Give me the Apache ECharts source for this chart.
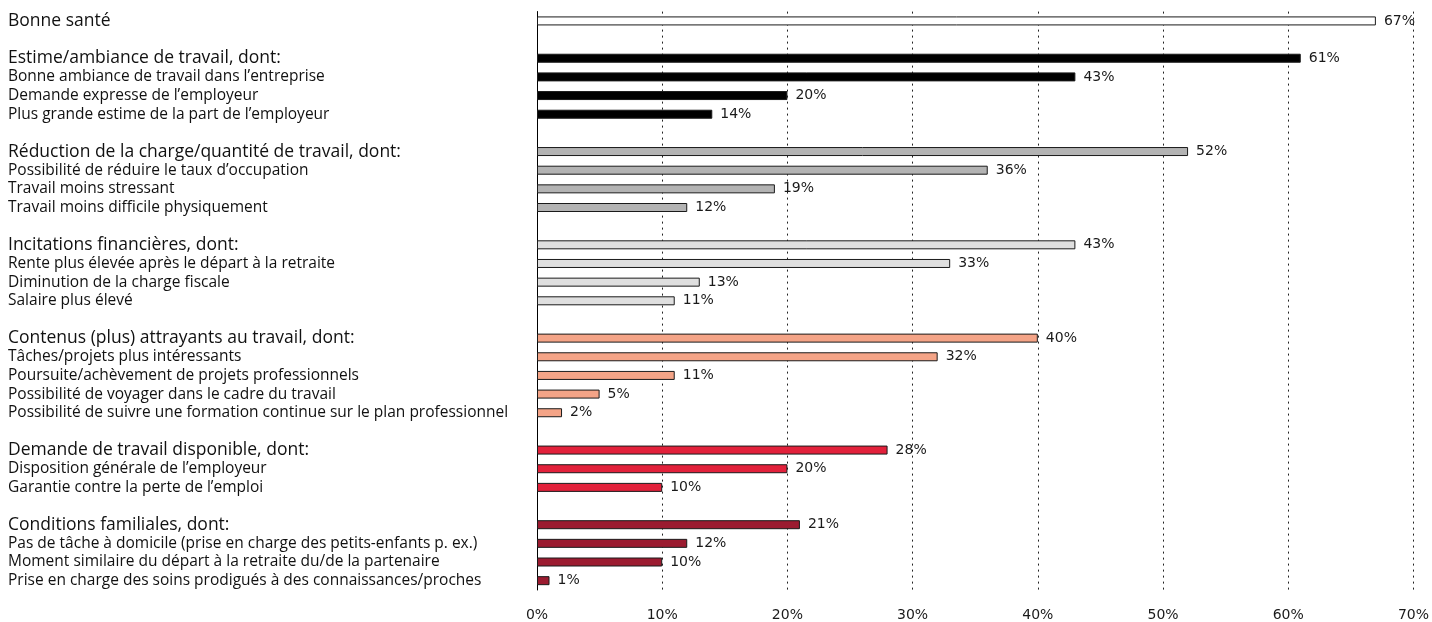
<!DOCTYPE html>
<html>
<head>
<meta charset="utf-8">
<script src="https://cdn.jsdelivr.net/npm/echarts@6/dist/echarts.min.js"></script>
<style>
  html, body { margin: 0; padding: 0; background: #fff; }
  #chart { width: 1432px; height: 622px; }
</style>
</head>
<body>
<div id="chart"></div>
<script>
// Group headings (drawn larger) and their sub-items
const groupTitles = [
  'Bonne santé',
  'Estime/ambiance de travail, dont:',
  'Réduction de la charge/quantité de travail, dont:',
  'Incitations financières, dont:',
  'Contenus (plus) attrayants au travail, dont:',
  'Demande de travail disponible, dont:',
  'Conditions familiales, dont:'
];
const estimeItems = ['Bonne ambiance de travail dans l’entreprise', 'Demande expresse de l’employeur', 'Plus grande estime de la part de l’employeur'];
const reductionItems = ['Possibilité de réduire le taux d’occupation', 'Travail moins stressant', 'Travail moins difficile physiquement'];
const incitationItems = ['Rente plus élevée après le départ à la retraite', 'Diminution de la charge fiscale', 'Salaire plus élevé'];
const contenusItems = ['Tâches/projets plus intéressants', 'Poursuite/achèvement de projets professionnels', 'Possibilité de voyager dans le cadre du travail', 'Possibilité de suivre une formation continue sur le plan professionnel'];
const demandeItems = ['Disposition générale de l’employeur', 'Garantie contre la perte de l’emploi'];
const familleItems = ['Pas de tâche à domicile (prise en charge des petits-enfants p. ex.)', 'Moment similaire du départ à la retraite du/de la partenaire', 'Prise en charge des soins prodigués à des connaissances/proches'];

// Shares in percent: heading value first, then sub-items
const santeValues = [67];
const estimeValues = [61, 43, 20, 14];
const reductionValues = [52, 36, 19, 12];
const incitationValues = [43, 33, 13, 11];
const contenusValues = [40, 32, 11, 5, 2];
const demandeValues = [28, 20, 10];
const familleValues = [21, 12, 10, 1];

// Axis tick labels
const tickLabels = ['0%', '10%', '20%', '30%', '40%', '50%', '60%', '70%'];

// Fill colours per group
const fills = ['#ffffff', '#000000', '#b3b3b3', '#dfdfdf', '#f4a487', '#e2213b', '#9b1b30'];

const groupItems = [[], estimeItems, reductionItems, incitationItems, contenusItems, demandeItems, familleItems];
const groupValues = [santeValues, estimeValues, reductionValues, incitationValues, contenusValues, demandeValues, familleValues];

const categories = [];
const seriesData = [];
const headerIdx = new Set();
groupTitles.forEach((title, g) => {
  if (g > 0) { categories.push(''); seriesData.push({ value: null }); }
  const labels = [title].concat(groupItems[g]);
  labels.forEach((lab, i) => {
    if (i === 0) headerIdx.add(categories.length);
    categories.push(lab);
    seriesData.push({
      value: groupValues[g][i],
      itemStyle: { color: fills[g], borderColor: '#1a1a1a', borderWidth: 1 }
    });
  });
});

const chart = echarts.init(document.getElementById('chart'));
chart.setOption({
  animation: false,
  backgroundColor: '#ffffff',
  grid: { left: 537, right: 18, top: 11.6, bottom: 29.6, containLabel: false },
  xAxis: {
    type: 'value',
    min: 0, max: 70, interval: 10,
    position: 'bottom',
    axisLine: { show: false },
    axisTick: { show: false },
    axisLabel: {
      margin: 18,
      fontFamily: 'DejaVu Sans',
      fontSize: 14,
      color: '#1a1a1a',
      formatter: (v) => tickLabels[Math.round(v / 10)]
    },
    splitLine: {
      show: true,
      lineStyle: { color: '#222', width: 1, type: [2, 4] }
    }
  },
  yAxis: {
    type: 'category',
    inverse: true,
    data: categories,
    axisLine: { show: true, lineStyle: { color: '#000', width: 1 } },
    axisTick: { show: false },
    splitLine: { show: false },
    axisLabel: {
      interval: 0,
      align: 'left',
      margin: 529,
      color: '#111',
      formatter: (v, i) => v === '' ? '' : (headerIdx.has(i) ? '{h|' + v + '}' : '{s|' + v + '}'),
      rich: {
        h: { fontFamily: 'Open Sans', fontSize: 17.5, color: '#111' },
        s: { fontFamily: 'Open Sans', fontSize: 15.5, color: '#111' }
      }
    }
  },
  series: [{
    type: 'bar',
    data: seriesData,
    barWidth: 9,
    label: {
      show: true,
      position: 'right',
      distance: 8,
      fontFamily: 'DejaVu Sans',
      fontSize: 14,
      color: '#1a1a1a',
      formatter: (p) => p.value == null ? '' : p.value + '%'
    }
  }]
});
</script>
</body>
</html>
